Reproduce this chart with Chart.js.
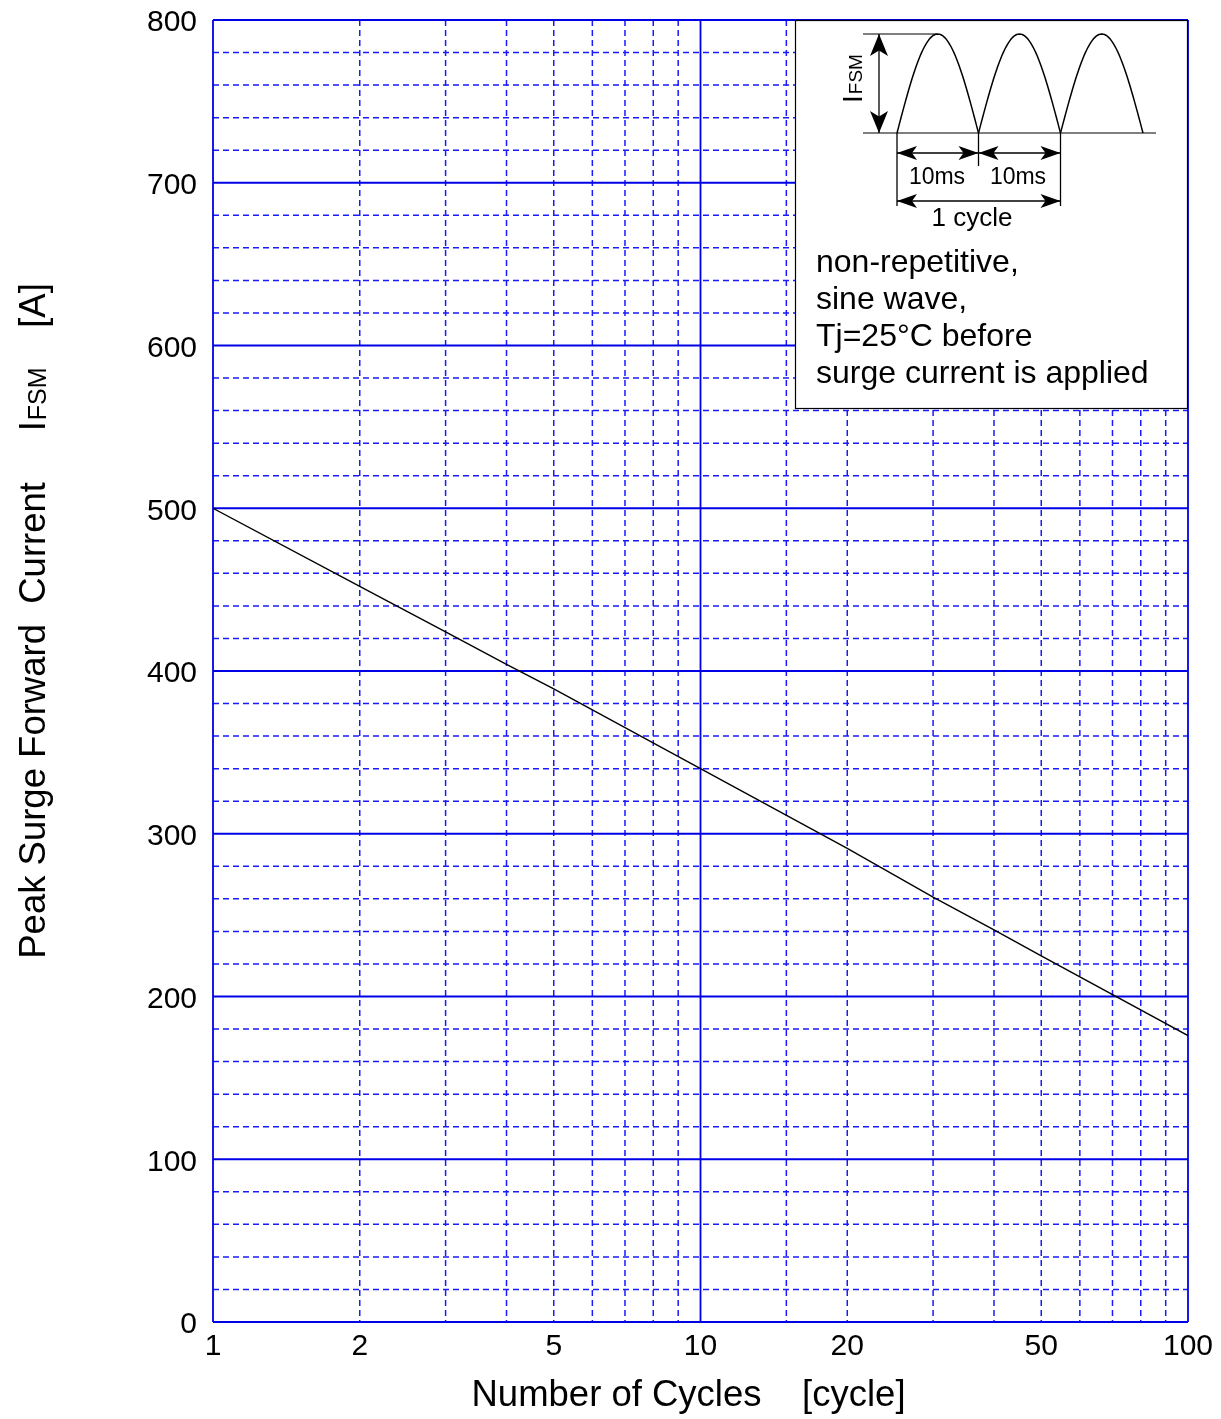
<!DOCTYPE html>
<html lang="en">
<head>
<meta charset="UTF-8">
<title>Peak Surge Forward Current vs Number of Cycles</title>
<script src="https://cdn.jsdelivr.net/npm/chart.js"></script>
<style>
  body { margin: 0; background: #fff; }
  canvas { display: block; }
</style>
</head>
<body>
<canvas id="surgeChart" width="1221" height="1419"></canvas>
<script>
  // values
  const cycles = [1, 2, 3, 4, 5, 10, 20, 30, 40, 50, 100];
  const ifsm = [500, 452, 424, 404, 389, 340, 291, 261, 241, 225, 176];

  const xTickLabels = [1, 2, 5, 10, 20, 50, 100];
  const yTickLabels = [0, 100, 200, 300, 400, 500, 600, 700, 800];

  const noteLines = ["non-repetitive,", "sine wave,", "Tj=25°C before", "surge current is applied"];

  const FONT = "'Liberation Sans', Arial, sans-serif";

  function line(ctx, x1, y1, x2, y2) {
    ctx.beginPath();
    ctx.moveTo(x1, y1);
    ctx.lineTo(x2, y2);
    ctx.stroke();
  }

  // double headed arrow, heads filled
  function arrow(ctx, x1, y1, x2, y2, len, half) {
    const ang = Math.atan2(y2 - y1, x2 - x1);
    line(ctx, x1, y1, x2, y2);
    [[x1, y1, ang], [x2, y2, ang + Math.PI]].forEach(([x, y, a]) => {
      ctx.beginPath();
      ctx.moveTo(x, y);
      ctx.lineTo(x + len * Math.cos(a) - half * Math.sin(a), y + len * Math.sin(a) + half * Math.cos(a));
      ctx.lineTo(x + len * 0.75 * Math.cos(a), y + len * 0.75 * Math.sin(a));
      ctx.lineTo(x + len * Math.cos(a) + half * Math.sin(a), y + len * Math.sin(a) - half * Math.cos(a));
      ctx.closePath();
      ctx.fill();
    });
  }

  const gridPlugin = {
    id: 'blueGrid',
    beforeDatasetsDraw(chart) {
      const { ctx, chartArea: a, scales: { x, y } } = chart;
      const majorX = v => Math.abs(Math.log10(v) - Math.round(Math.log10(v))) < 1e-9;
      const majorY = v => v % 100 === 0;
      ctx.save();

      ctx.strokeStyle = '#1a1aff';
      ctx.lineWidth = 1.5;
      ctx.setLineDash([6, 4]);
      x.ticks.forEach(t => {
        if (majorX(t.value)) return;
        const px = x.getPixelForValue(t.value);
        line(ctx, px, a.top, px, a.bottom);
      });
      y.ticks.forEach(t => {
        if (majorY(t.value)) return;
        const py = y.getPixelForValue(t.value);
        line(ctx, a.left, py, a.right, py);
      });

      ctx.setLineDash([]);
      ctx.strokeStyle = '#0000e6';
      ctx.lineWidth = 1.8;
      x.ticks.forEach(t => {
        if (!majorX(t.value)) return;
        const px = x.getPixelForValue(t.value);
        line(ctx, px, a.top, px, a.bottom);
      });
      y.ticks.forEach(t => {
        if (!majorY(t.value)) return;
        const py = y.getPixelForValue(t.value);
        line(ctx, a.left, py, a.right, py);
      });
      ctx.restore();
    }
  };

  const insetPlugin = {
    id: 'inset',
    afterDatasetsDraw(chart) {
      const { ctx, chartArea: a } = chart;
      const W = 393, H = 388;
      const L = a.right - W, T = a.top;
      ctx.save();
      ctx.fillStyle = '#fff';
      ctx.fillRect(L, T, W, H);
      ctx.strokeStyle = '#000';
      ctx.fillStyle = '#000';
      ctx.lineWidth = 1.2;
      ctx.strokeRect(L + 0.5, T + 0.5, W - 1, H);

      const base = T + 113, peak = T + 14;
      const starts = [L + 102, L + 183.5, L + 265.5, L + 348];

      // axis line and peak reference
      line(ctx, L + 68, base, L + 361, base);
      line(ctx, L + 68, peak, L + 142, peak);

      // three half sine waves
      ctx.lineWidth = 1.5;
      for (let k = 0; k < 3; k++) {
        const s = starts[k], e = starts[k + 1];
        ctx.beginPath();
        for (let i = 0; i <= 60; i++) {
          const t = i / 60;
          const px = s + (e - s) * t;
          const py = base - (base - peak) * Math.sin(Math.PI * t);
          if (i === 0) ctx.moveTo(px, py); else ctx.lineTo(px, py);
        }
        ctx.stroke();
      }
      ctx.lineWidth = 1.3;

      // IFSM arrow
      arrow(ctx, L + 84, peak, L + 84, base, 22, 9);

      // vertical markers
      line(ctx, starts[0], base, starts[0], T + 186);
      line(ctx, starts[1], base, starts[1], T + 146);
      line(ctx, starts[2], base, starts[2], T + 186);

      arrow(ctx, starts[0], T + 133, starts[1], T + 133, 20, 7);
      arrow(ctx, starts[1], T + 133, starts[2], T + 133, 20, 7);
      arrow(ctx, starts[0], T + 181, starts[2], T + 181, 20, 7);

      ctx.textBaseline = 'alphabetic';
      ctx.textAlign = 'center';
      ctx.font = '23px ' + FONT;
      ctx.fillText('10ms', L + 142, T + 164);
      ctx.fillText('10ms', L + 223, T + 164);
      ctx.font = '26px ' + FONT;
      ctx.fillText('1 cycle', L + 177, T + 206);

      // rotated IFSM label
      ctx.save();
      ctx.translate(L + 67, T + 59);
      ctx.rotate(-Math.PI / 2);
      ctx.textAlign = 'left';
      ctx.font = '28px ' + FONT;
      const wI = ctx.measureText('I').width;
      ctx.font = '19px ' + FONT;
      const wSub = ctx.measureText('FSM').width;
      let cx = -(wI + wSub) / 2;
      ctx.font = '28px ' + FONT;
      ctx.fillText('I', cx, 0);
      ctx.font = '19px ' + FONT;
      ctx.fillText('FSM', cx + wI + 1, 0);
      ctx.restore();

      // conditions text
      ctx.textAlign = 'left';
      ctx.font = '32px ' + FONT;
      noteLines.forEach((s, i) => ctx.fillText(s, L + 21, T + 252 + i * 37));
      ctx.restore();
    }
  };

  const titlePlugin = {
    id: 'axisTitles',
    afterDraw(chart) {
      const { ctx, chartArea: a } = chart;
      ctx.save();
      ctx.fillStyle = '#000';
      ctx.textBaseline = 'alphabetic';

      // x title
      ctx.font = '36.5px ' + FONT;
      ctx.textAlign = 'center';
      ctx.fillText('Number of Cycles    [cycle]', (a.left + a.right) / 2 - 12, 1406);

      // y title with subscript
      const main = 'Peak Surge Forward  Current     I';
      const sub = 'FSM';
      const tail = '    [A]';
      ctx.translate(45, 621);
      ctx.rotate(-Math.PI / 2);
      ctx.textAlign = 'left';
      ctx.font = '36.5px ' + FONT;
      const w1 = ctx.measureText(main).width;
      const w3 = ctx.measureText(tail).width;
      ctx.font = '25px ' + FONT;
      const w2 = ctx.measureText(sub).width;
      let px = -(w1 + w2 + w3) / 2;
      ctx.font = '36.5px ' + FONT;
      ctx.fillText(main, px, 0);
      ctx.font = '25px ' + FONT;
      ctx.fillText(sub, px + w1 + 1, 1);
      ctx.font = '36.5px ' + FONT;
      ctx.fillText(tail, px + w1 + w2, 0);
      ctx.restore();
    }
  };

  new Chart(document.getElementById('surgeChart'), {
    type: 'line',
    data: {
      datasets: [{
        data: cycles.map((c, i) => ({ x: c, y: ifsm[i] })),
        borderColor: '#000',
        borderWidth: 1.4,
        pointRadius: 0,
        tension: 0,
        fill: false
      }]
    },
    options: {
      responsive: false,
      animation: false,
      layout: { padding: { left: 0, right: 33, top: 20, bottom: 0 } },
      plugins: {
        legend: { display: false },
        tooltip: { enabled: false }
      },
      scales: {
        x: {
          type: 'logarithmic',
          min: 1,
          max: 100,
          grid: { display: false, drawTicks: false },
          border: { display: false },
          afterFit: s => { s.height = 97; s.paddingLeft = 0; s.paddingRight = 0; },
          ticks: {
            autoSkip: false,
            maxRotation: 0,
            padding: 7,
            color: '#000',
            font: { family: FONT, size: 30 },
            callback: v => xTickLabels.includes(v) ? String(v) : ''
          }
        },
        y: {
          type: 'linear',
          min: 0,
          max: 800,
          grid: { display: false, drawTicks: false },
          border: { display: false },
          afterFit: s => { s.width = 213; s.paddingTop = 0; s.paddingBottom = 0; },
          ticks: {
            stepSize: 20,
            autoSkip: false,
            padding: 16,
            labelOffset: 3,
            color: '#000',
            font: { family: FONT, size: 30 },
            callback: v => yTickLabels.includes(v) ? String(v) : ''
          }
        }
      }
    },
    plugins: [gridPlugin, insetPlugin, titlePlugin]
  });
</script>
</body>
</html>
